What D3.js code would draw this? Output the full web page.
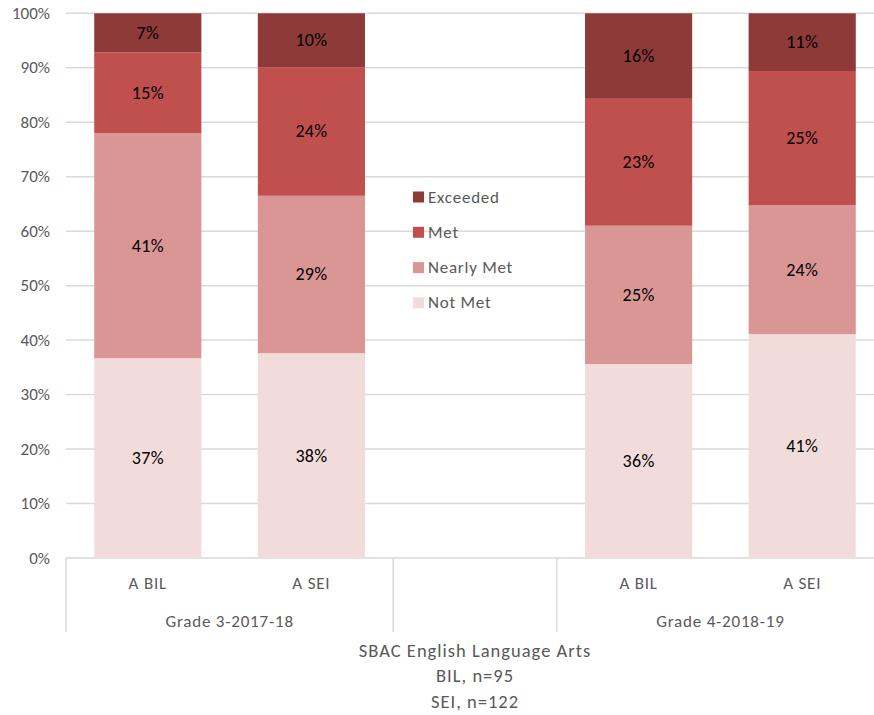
<!DOCTYPE html>
<html>
<head>
<meta charset="utf-8">
<script src="https://cdn.jsdelivr.net/npm/d3@7"></script>
<style>
  html, body { margin: 0; padding: 0; background: #fff; }
  svg { display: block; font-family: Carlito, Calibri, Lato, sans-serif; }
</style>
</head>
<body>
<svg id="chart" width="874" height="715"></svg>
<script>
// Slots along the x axis (the middle slot is left empty and holds the legend)
const categories = ["A BIL", "A SEI", "", "A BIL", "A SEI"];
const groups = [
  { name: "Grade 3-2017-18", from: 0, to: 1 },
  { name: "Grade 4-2018-19", from: 3, to: 4 }
];
const seriesNames = ["Not Met", "Nearly Met", "Met", "Exceeded"];
const seriesColors = ["#F2DCDB", "#DA9694", "#C0504D", "#8E3A39"];

// Percent of students per performance level, per bar (null = empty slot)
const notMet    = [36.7, 37.6, null, 35.6, 41.1];
const nearlyMet = [41.3, 28.9, null, 25.4, 23.7];
const met       = [14.8, 23.6, null, 23.3, 24.6];
const exceeded  = [ 7.2,  9.9, null, 15.7, 10.6];

const yTicks = [0, 10, 20, 30, 40, 50, 60, 70, 80, 90, 100];
const titleLines = ["SBAC English Language Arts", "BIL, n=95", "SEI, n=122"];

const svg = d3.select("#chart");
const W = 874;
const plotLeft = 66, plotRight = 884, plotTop = 13.3, plotBottom = 558;
const grey = "#595959";

const x = d3.scaleBand().domain(d3.range(categories.length)).range([plotLeft, plotRight]).padding(0);
const y = d3.scaleLinear().domain([0, 100]).range([plotBottom, plotTop]);
const barW = x.bandwidth() * 0.655;

const rows = categories.map((c, i) => ({
  i, cat: c,
  "Not Met": notMet[i], "Nearly Met": nearlyMet[i], "Met": met[i], "Exceeded": exceeded[i]
})).filter(d => d["Not Met"] !== null);

const stack = d3.stack().keys(seriesNames)(rows);

// Gridlines
svg.append("g").selectAll("line").data(yTicks).join("line")
  .attr("x1", plotLeft).attr("x2", W)
  .attr("y1", d => y(d)).attr("y2", d => y(d))
  .attr("stroke", "#D9D9D9").attr("stroke-width", 1.5);

// Y tick labels
svg.append("g").selectAll("text").data(yTicks).join("text")
  .attr("x", 50).attr("y", d => y(d))
  .attr("text-anchor", "end").attr("dominant-baseline", "central")
  .attr("fill", grey).attr("font-size", 17)
  .text(d => d + "%");

// Stacked bars
const layers = svg.append("g").selectAll("g").data(stack).join("g")
  .attr("fill", (d, k) => seriesColors[k]);
layers.selectAll("rect").data(d => d).join("rect")
  .attr("x", d => x(d.data.i) + (x.bandwidth() - barW) / 2)
  .attr("width", barW)
  .attr("y", d => y(d[1]))
  .attr("height", d => y(d[0]) - y(d[1]));

// Value labels
const fmt = v => Math.round(v) + "%";
layers.selectAll("text").data(d => d).join("text")
  .attr("x", d => x(d.data.i) + x.bandwidth() / 2)
  .attr("y", d => (y(d[0]) + y(d[1])) / 2)
  .attr("text-anchor", "middle").attr("dominant-baseline", "central")
  .attr("fill", "#000").attr("font-size", 18).attr("letter-spacing", 0.3)
  .text(d => fmt(d[1] - d[0]));

// Multi-level category axis
const axisG = svg.append("g");
const sepX = [0, 2, 3, 5].map(k => k < categories.length ? x(k) : x(categories.length - 1) + x.bandwidth());
axisG.selectAll("line.sep").data(sepX).join("line").attr("class", "sep")
  .attr("x1", d => d).attr("x2", d => d)
  .attr("y1", plotBottom).attr("y2", 632)
  .attr("stroke", "#D9D9D9").attr("stroke-width", 1.5);

axisG.selectAll("text.cat").data(categories.map((c, i) => ({ c, i })).filter(d => d.c)).join("text")
  .attr("class", "cat")
  .attr("x", d => x(d.i) + x.bandwidth() / 2).attr("y", 583)
  .attr("text-anchor", "middle").attr("dominant-baseline", "central")
  .attr("fill", grey).attr("font-size", 17).attr("letter-spacing", 0.8)
  .text(d => d.c);

axisG.selectAll("text.grp").data(groups).join("text")
  .attr("class", "grp")
  .attr("x", d => (x(d.from) + x(d.to) + x.bandwidth()) / 2).attr("y", 621)
  .attr("text-anchor", "middle").attr("dominant-baseline", "central")
  .attr("fill", grey).attr("font-size", 17).attr("letter-spacing", 0.8)
  .text(d => d.name);

// Axis title
svg.append("g").selectAll("text").data(titleLines).join("text")
  .attr("x", (plotLeft + plotRight) / 2).attr("y", (d, k) => 650 + k * 25.5)
  .attr("text-anchor", "middle").attr("dominant-baseline", "central")
  .attr("fill", grey).attr("font-size", 18.5).attr("letter-spacing", 1)
  .text(d => d);

// Legend in the empty slot
const legendItems = seriesNames.map((n, k) => ({ n, c: seriesColors[k] })).reverse();
const lg = svg.append("g").selectAll("g").data(legendItems).join("g")
  .attr("transform", (d, k) => `translate(413, ${197 + k * 35.3})`);
lg.append("rect").attr("x", 0).attr("y", -5.5).attr("width", 11).attr("height", 11).attr("fill", d => d.c);
lg.append("text").attr("x", 15).attr("y", 0)
  .attr("dominant-baseline", "central").attr("fill", grey).attr("font-size", 17).attr("letter-spacing", 0.75)
  .text(d => d.n);
</script>
</body>
</html>
